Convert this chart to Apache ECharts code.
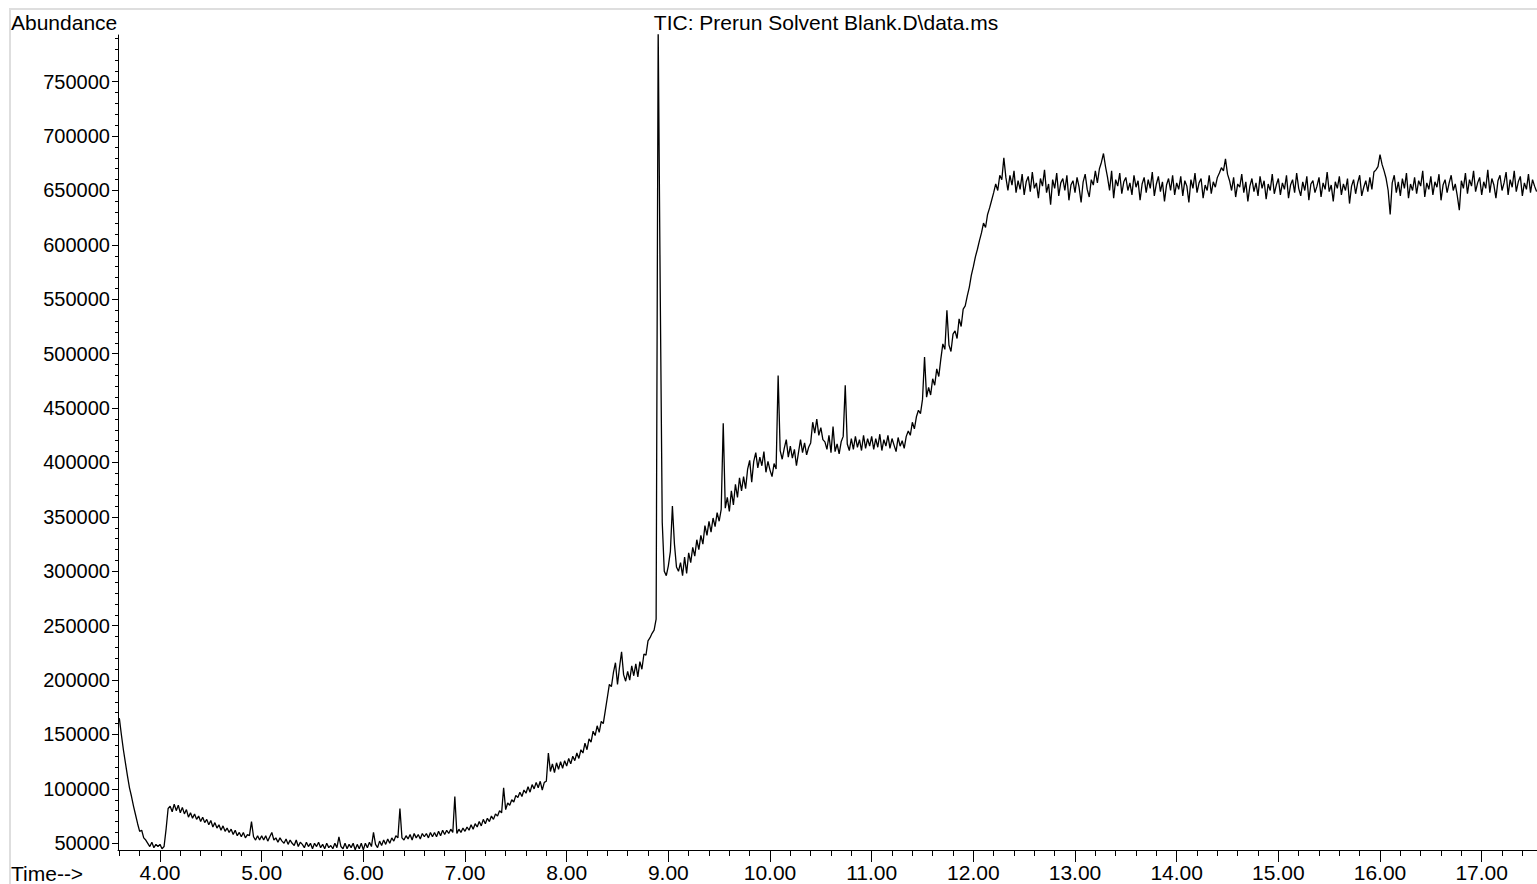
<!DOCTYPE html>
<html>
<head>
<meta charset="utf-8">
<title>TIC: Prerun Solvent Blank.D\data.ms</title>
<script src="https://cdn.jsdelivr.net/npm/echarts@6/dist/echarts.min.js"></script>
<style>
html, body { margin: 0; padding: 0; background: #fff; }
#chart { width: 1537px; height: 884px; }
</style>
</head>
<body>
<div id="chart"></div>
<script>
// Total ion chromatogram: abundance in thousands of counts, one scan every 0.02 min.
const SCAN_STEP = 0.02;

const scan_3_6 = [165, 150, 136, 124, 112, 101, 93, 84, 76, 68, 61, 62, 55, 53, 50, 47, 51, 46, 49, 47];
const scan_4 = [
  49, 45, 47, 63, 82, 84, 79, 86, 80, 85,
  78, 83, 77, 81, 74, 78, 73, 77, 72, 75,
  70, 74, 69, 72, 67, 71, 65, 69, 64, 67,
  62, 66, 61, 64, 60, 63, 58, 62, 57, 60,
  56, 60, 55, 58, 57, 70, 56, 53, 57, 53
];
const scan_5 = [
  57, 53, 57, 52, 56, 60, 53, 55, 51, 55,
  52, 50, 54, 49, 53, 50, 48, 53, 47, 51,
  49, 46, 51, 47, 50, 45, 50, 47, 51, 46,
  49, 45, 50, 46, 48, 45, 50, 46, 56, 47,
  45, 50, 45, 49, 46, 50, 44, 49, 45, 50
];
const scan_6 = [
  44, 50, 46, 51, 47, 60, 49, 46, 52, 48,
  53, 49, 54, 50, 55, 52, 57, 55, 82, 55,
  53, 57, 54, 58, 53, 59, 55, 58, 54, 59,
  56, 59, 55, 60, 56, 60, 56, 61, 57, 62,
  58, 62, 59, 63, 60, 93, 59, 63, 60, 64
];
const scan_7 = [
  61, 65, 62, 67, 63, 68, 65, 70, 66, 72,
  68, 73, 70, 75, 72, 77, 75, 80, 78, 101,
  81, 87, 85, 90, 88, 94, 92, 97, 93, 99,
  96, 102, 97, 104, 100, 106, 101, 107, 99, 106,
  107, 133, 116, 123, 115, 124, 118, 125, 119, 126
];
const scan_8 = [
  121, 128, 123, 130, 126, 133, 128, 136, 133, 142,
  136, 146, 143, 153, 149, 158, 152, 162, 160, 172,
  184, 196, 194, 207, 216, 196, 212, 226, 205, 199,
  208, 200, 213, 204, 215, 203, 217, 210, 224, 223,
  236, 239, 243, 246, 256, 800, 560, 345, 300, 296
];
const scan_9 = [
  305, 318, 360, 325, 304, 300, 308, 296, 313, 298,
  317, 308, 322, 314, 329, 320, 333, 325, 342, 333,
  346, 336, 349, 341, 354, 346, 357, 436, 358, 368,
  355, 374, 361, 380, 368, 386, 374, 387, 376, 394,
  402, 382, 401, 409, 395, 405, 397, 410, 391, 401
];
const scan_10 = [
  393, 387, 399, 394, 480, 411, 403, 413, 421, 405,
  415, 404, 412, 397, 409, 421, 409, 418, 407, 414,
  418, 437, 427, 440, 425, 432, 421, 419, 412, 425,
  409, 433, 410, 417, 408, 419, 424, 471, 417, 411,
  422, 412, 424, 414, 421, 411, 425, 413, 422, 415
];
const scan_11 = [
  424, 412, 422, 414, 426, 411, 421, 415, 425, 413,
  422, 416, 410, 423, 415, 420, 413, 424, 429, 425,
  437, 431, 442, 448, 445, 458, 497, 460, 469, 462,
  477, 471, 486, 479, 495, 509, 504, 540, 508, 502,
  518, 521, 514, 532, 525, 541, 544, 553, 561, 572
];
const scan_12 = [
  580, 589, 596, 604, 611, 620, 616, 628, 634, 641,
  648, 656, 650, 664, 660, 680, 662, 650, 664, 655,
  668, 648, 659, 651, 665, 646, 658, 663, 649, 667,
  652, 657, 643, 661, 654, 669, 648, 656, 637, 660,
  652, 666, 645, 657, 661, 650, 664, 641, 655, 659
];
const scan_13 = [
  648, 662, 653, 639, 658, 665, 651, 644, 660, 655,
  668, 657, 670, 676, 684, 672, 662, 650, 668, 643,
  660, 654, 666, 647, 658, 662, 650, 657, 646, 664,
  653, 659, 641, 656, 662, 648, 660, 652, 667, 645,
  656, 663, 649, 658, 640, 655, 661, 650, 664, 646
];
const scan_14 = [
  657, 651, 663, 645, 659, 654, 639, 660, 652, 666,
  648, 657, 661, 643, 655, 650, 664, 647, 658, 653,
  662, 666, 671, 668, 679, 665, 659, 650, 662, 644,
  656, 653, 665, 648, 658, 640, 654, 661, 649, 657,
  645, 663, 652, 659, 642, 656, 650, 665, 647, 655
];
const scan_15 = [
  661, 646, 657, 651, 664, 643, 655, 660, 648, 666,
  652, 645, 658, 650, 663, 641, 656, 659, 648, 654,
  662, 644, 657, 651, 667, 649, 655, 640, 658, 652,
  663, 646, 656, 650, 661, 638, 654, 660, 647, 657,
  664, 645, 653, 659, 649, 662, 651, 667, 669, 672
];
const scan_16 = [
  683, 674, 668, 661, 650, 628, 657, 664, 648, 658,
  645, 661, 652, 666, 643, 656, 650, 662, 647, 659,
  654, 668, 644, 657, 651, 663, 646, 658, 653, 665,
  641, 655, 660, 648, 657, 664, 650, 656, 645, 632,
  659, 652, 666, 647, 660, 654, 668, 649, 657, 662
];
const scan_17 = [
  646, 658, 652, 669, 648, 661, 655, 643, 659, 664,
  650, 657, 667, 646, 660, 653, 668, 649, 658, 663,
  645, 657, 651, 665, 648, 660, 654, 649
];

// Start time (min) of each block of scans
const scanBlocks = [
  [3.6, scan_3_6], [4, scan_4], [5, scan_5], [6, scan_6], [7, scan_7],
  [8, scan_8], [9, scan_9], [10, scan_10], [11, scan_11], [12, scan_12],
  [13, scan_13], [14, scan_14], [15, scan_15], [16, scan_16], [17, scan_17]
];

// Axis ranges and tick labels
const TIME_MIN = 3.587, TIME_MAX = 17.544;
const ABUND_MIN = 43840, ABUND_MAX = 792920;
const timeTicks = [4, 5, 6, 7, 8, 9, 10, 11, 12, 13, 14, 15, 16, 17];
const abundanceTicks = [50000, 100000, 150000, 200000, 250000, 300000, 350000, 400000,
  450000, 500000, 550000, 600000, 650000, 700000, 750000];

const timeMinorTicks = [];
for (let k = 18; k <= 87; k++) timeMinorTicks.push(+(k * 0.2).toFixed(1));
const abundanceMinorTicks = [];
for (let v = 50000; v <= 790000; v += 10000) abundanceMinorTicks.push(v);

const tic = [];
scanBlocks.forEach(([start, vals]) => {
  vals.forEach((v, i) => tic.push([+(start + i * SCAN_STEP).toFixed(2), v * 1000]));
});

const FONT = '"Liberation Sans", Arial, Helvetica, sans-serif';
const INK = '#000';

const chart = echarts.init(document.getElementById('chart'), null, { renderer: 'svg' });

chart.setOption({
  animation: false,
  backgroundColor: '#ffffff',
  grid: { left: 118, right: 0, top: 35, bottom: 34, containLabel: false, outerBoundsMode: 'none' },
  xAxis: [
    {
      type: 'value', min: TIME_MIN, max: TIME_MAX, position: 'bottom',
      axisLine: { show: true, onZero: false, lineStyle: { color: INK, width: 1 } },
      axisTick: { show: true, customValues: timeTicks, length: 12, lineStyle: { color: INK, width: 1 } },
      axisLabel: {
        customValues: timeTicks, margin: 12, color: INK, fontSize: 21, fontFamily: FONT,
        formatter: v => v.toFixed(2)
      },
      splitLine: { show: false }
    },
    {
      type: 'value', min: TIME_MIN, max: TIME_MAX, position: 'bottom',
      axisLine: { show: false, onZero: false },
      axisTick: { show: true, customValues: timeMinorTicks, length: 6, lineStyle: { color: INK, width: 1 } },
      axisLabel: { show: false },
      splitLine: { show: false }
    }
  ],
  yAxis: [
    {
      type: 'value', min: ABUND_MIN, max: ABUND_MAX, position: 'left',
      axisLine: { show: true, onZero: false, lineStyle: { color: INK, width: 1 } },
      axisTick: { show: true, customValues: abundanceTicks, length: 6, lineStyle: { color: INK, width: 1 } },
      axisLabel: {
        customValues: abundanceTicks, margin: 8, color: INK, fontSize: 20, fontFamily: FONT,
        formatter: v => String(v)
      },
      splitLine: { show: false }
    },
    {
      type: 'value', min: ABUND_MIN, max: ABUND_MAX, position: 'left',
      axisLine: { show: false, onZero: false },
      axisTick: { show: true, customValues: abundanceMinorTicks, length: 3, lineStyle: { color: INK, width: 1 } },
      axisLabel: { show: false },
      splitLine: { show: false }
    }
  ],
  series: [{
    name: 'TIC',
    type: 'line',
    xAxisIndex: 0,
    yAxisIndex: 0,
    data: tic,
    symbol: 'none',
    showSymbol: false,
    clip: true,
    lineStyle: { color: INK, width: 1.3 },
    emphasis: { disabled: true }
  }],
  graphic: [
    { type: 'line', z: 100, shape: { x1: 9, y1: 9, x2: 1537, y2: 9 }, style: { stroke: '#dedede', lineWidth: 2 } },
    { type: 'line', z: 100, shape: { x1: 10, y1: 9, x2: 10, y2: 884 }, style: { stroke: '#dedede', lineWidth: 2 } },
    { type: 'text', z: 100, x: 11, y: 22,
      style: { text: 'Abundance', fill: INK, fontSize: 21, fontFamily: FONT, align: 'left', verticalAlign: 'middle' } },
    { type: 'text', z: 100, x: 826, y: 22,
      style: { text: 'TIC: Prerun Solvent Blank.D\\data.ms', fill: INK, fontSize: 21, fontFamily: FONT, align: 'center', verticalAlign: 'middle' } },
    { type: 'text', z: 100, x: 11, y: 873,
      style: { text: 'Time-->', fill: INK, fontSize: 21, fontFamily: FONT, align: 'left', verticalAlign: 'middle' } }
  ]
});
</script>
</body>
</html>
